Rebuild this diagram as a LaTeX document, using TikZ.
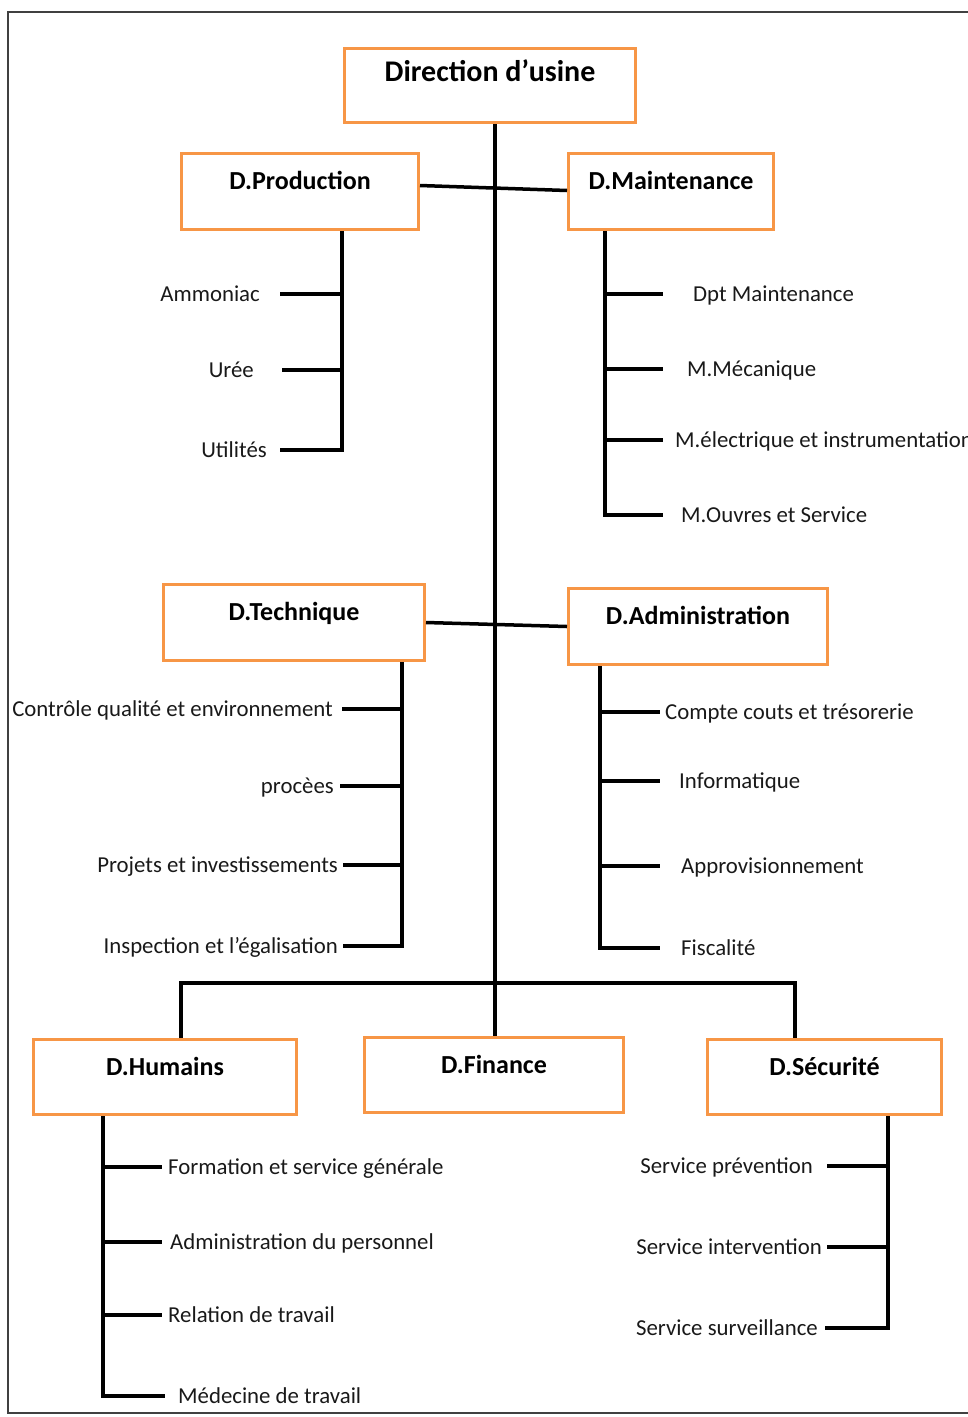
\documentclass[tikz,border=0pt]{standalone}
\usepackage{fontspec}
\setmainfont{Carlito}
\definecolor{boxorange}{HTML}{F79646}

\begin{document}
\begin{tikzpicture}[
    x=1pt,
    y=-1pt,
    font=\fontsize{22.8}{27}\selectfont,
    dept/.style={draw=boxorange, line width=3pt, fill=white, inner sep=2pt, font=\bfseries\fontsize{26}{31}\selectfont, text height=17pt, text depth=21pt},
    item/.style={inner sep=0pt, text height=15pt, text depth=0pt, text=black!90},
    tree/.style={line width=3.5pt, black},
    frame/.style={draw=black!75, line width=1.5pt}
  ]
  \useasboundingbox (0,0) rectangle (968,1417);
  \draw[frame] (8,12) rectangle (990,1413);

  % departments
  \node[dept, minimum width=291pt, minimum height=74pt, font=\bfseries\fontsize{30}{36}\selectfont, text height=19.5pt, text depth=27pt] (dir) at (490,85.5) {Direction d’usine};
  \node[dept, minimum width=237pt, minimum height=76pt] (prod)  at (300,191.5) {D.Production};
  \node[dept, minimum width=205pt, minimum height=76pt] (maint) at (671,191.5) {D.Maintenance};
  \node[dept, minimum width=261pt, minimum height=76pt] (tech)  at (294,622.5) {D.Technique};
  \node[dept, minimum width=259pt, minimum height=76pt] (admin) at (698,626.5) {D.Administration};
  \node[dept, minimum width=263pt, minimum height=75pt] (hum)   at (165,1077) {D.Humains};
  \node[dept, minimum width=259pt, minimum height=75pt] (fin)   at (494,1075) {D.Finance};
  \node[dept, minimum width=234pt, minimum height=75pt] (secu)  at (824.5,1077) {D.Sécurité};

  % services
  \node[item, anchor=east] (amm)  at (260,294) {Ammoniac};
  \node[item, anchor=east] (uree) at (254,370) {Urée};
  \node[item, anchor=east] (util) at (267,450) {Utilités};

  \node[item, anchor=west] (dptm)  at (693,294) {Dpt Maintenance};
  \node[item, anchor=west] (mmec)  at (687,369) {M.Mécanique};
  \node[item, anchor=west] (melec) at (675,440) {M.électrique et instrumentation};
  \node[item, anchor=west] (mouv)  at (681,515) {M.Ouvres et Service};

  \node[item, anchor=east] (ctrl) at (333,709) {Contrôle qualité et environnement};
  \node[item, anchor=east] (proc) at (334,786) {procèes};
  \node[item, anchor=east] (proj) at (338,865) {Projets et investissements};
  \node[item, anchor=east] (insp) at (338,946) {Inspection et l’égalisation};

  \node[item, anchor=west] (cpt)   at (665,712) {Compte couts et trésorerie};
  \node[item, anchor=west] (info)  at (679,781) {Informatique};
  \node[item, anchor=west] (appro) at (681,866) {Approvisionnement};
  \node[item, anchor=west] (fisc)  at (681,948) {Fiscalité};

  \node[item, anchor=west] (form) at (168,1167) {Formation et service générale};
  \node[item, anchor=west] (adm)  at (170,1242) {Administration du personnel};
  \node[item, anchor=west] (rel)  at (168,1315) {Relation de travail};
  \node[item, anchor=west] (med)  at (178,1396) {Médecine de travail};

  \node[item, anchor=east] (prev)  at (813,1166) {Service prévention};
  \node[item, anchor=east] (inter) at (822,1247) {Service intervention};
  \node[item, anchor=east] (surv)  at (818,1328) {Service surveillance};

  % main links
  \coordinate (trunk) at ([xshift=5pt]dir.south);
  \coordinate (bus) at (495,983);
  \draw[tree] (trunk) -- (trunk |- fin.north);
  \draw[tree] ([yshift=6pt]prod.east) -- ([yshift=1pt]maint.west);
  \draw[tree] (tech.east) -- (admin.west);
  \draw[tree] ([xshift=16pt]hum.north) |- (bus) -| ([xshift=-29.5pt]secu.north);

  % sub trees
  \coordinate (sp-prod)  at ([xshift=42pt]prod.south);
  \coordinate (sp-maint) at ([xshift=-66pt]maint.south);
  \coordinate (sp-tech)  at ([xshift=108pt]tech.south);
  \coordinate (sp-admin) at ([xshift=-98pt]admin.south);
  \coordinate (sp-hum)   at ([xshift=-62pt]hum.south);
  \coordinate (sp-secu)  at ([xshift=63.5pt]secu.south);

  \draw[tree] (sp-prod) |- ([xshift=13pt]util.east);
  \draw[tree] (sp-prod |- amm) -- ([xshift=20pt]amm.east);
  \draw[tree] (sp-prod |- uree) -- ([xshift=28pt]uree.east);

  \draw[tree] (sp-maint) |- ([xshift=-18pt]mouv.west);
  \draw[tree] (sp-maint |- dptm) -- ([xshift=-30pt]dptm.west);
  \draw[tree] (sp-maint |- mmec) -- ([xshift=-24pt]mmec.west);
  \draw[tree] (sp-maint |- melec) -- ([xshift=-12pt]melec.west);

  \draw[tree] (sp-tech) |- ([xshift=5pt]insp.east);
  \draw[tree] (sp-tech |- ctrl) -- ([xshift=9pt]ctrl.east);
  \draw[tree] (sp-tech |- proc) -- ([xshift=6pt]proc.east);
  \draw[tree] (sp-tech |- proj) -- ([xshift=5pt]proj.east);

  \draw[tree] (sp-admin) |- ([xshift=-21pt]fisc.west);
  \draw[tree] (sp-admin |- cpt) -- ([xshift=-5pt]cpt.west);
  \draw[tree] (sp-admin |- info) -- ([xshift=-19pt]info.west);
  \draw[tree] (sp-admin |- appro) -- ([xshift=-21pt]appro.west);

  \draw[tree] (sp-hum) |- ([xshift=-13pt]med.west);
  \draw[tree] (sp-hum |- form) -- ([xshift=-6pt]form.west);
  \draw[tree] (sp-hum |- adm) -- ([xshift=-8pt]adm.west);
  \draw[tree] (sp-hum |- rel) -- ([xshift=-6pt]rel.west);

  \draw[tree] (sp-secu) |- ([xshift=7pt]surv.east);
  \draw[tree] (sp-secu |- prev) -- ([xshift=14pt]prev.east);
  \draw[tree] (sp-secu |- inter) -- ([xshift=5pt]inter.east);
\end{tikzpicture}
\end{document}
